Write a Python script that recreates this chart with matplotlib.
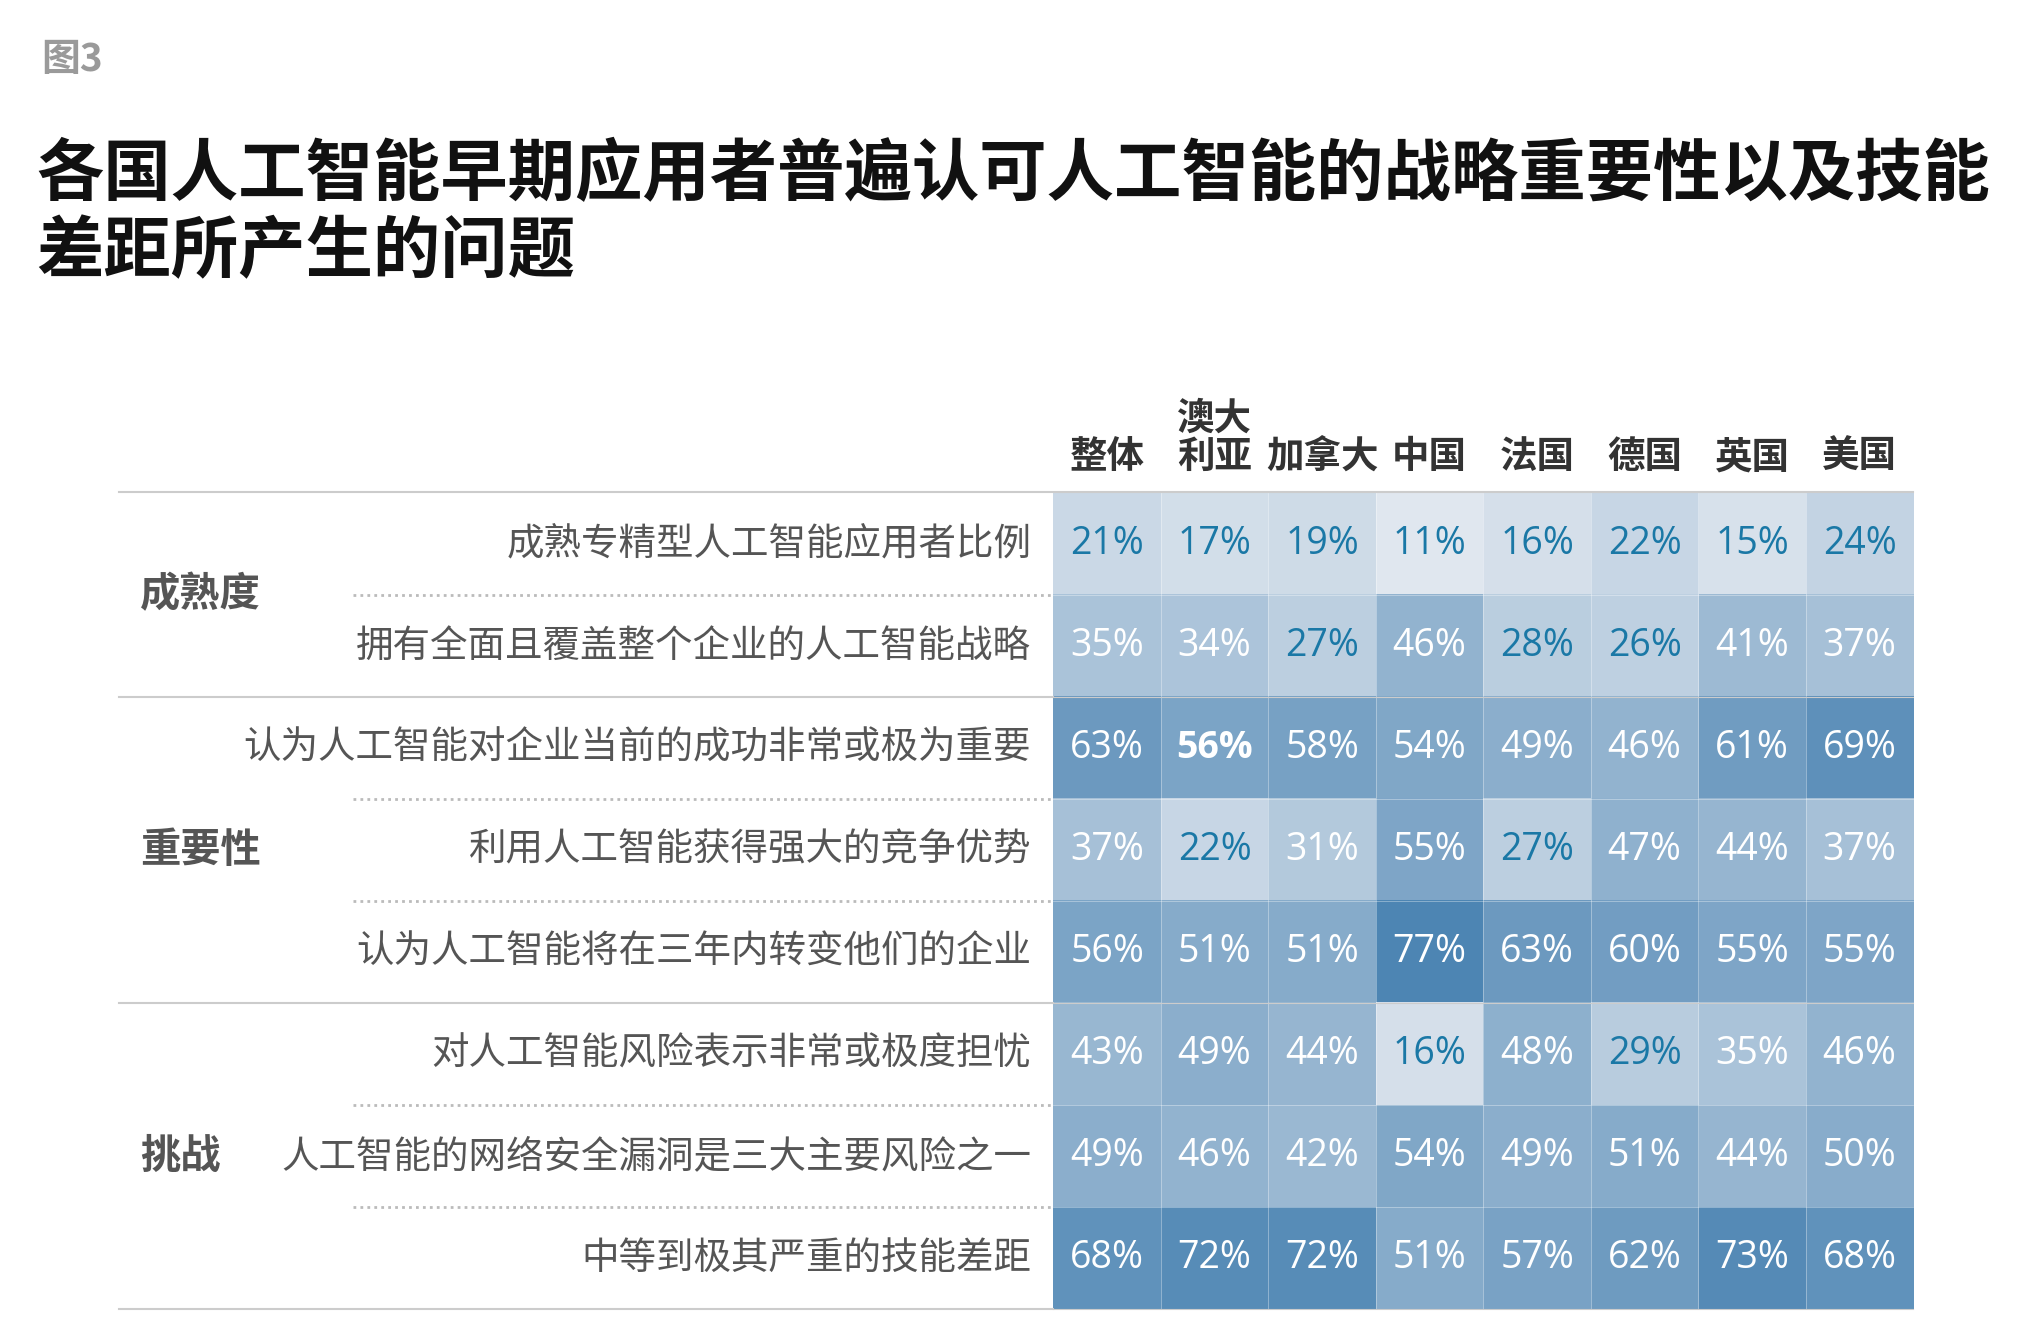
import numpy as np
import matplotlib
matplotlib.use("Agg")
import matplotlib.pyplot as plt
from matplotlib.colors import LinearSegmentedColormap

plt.rcParams["font.family"] = ["Noto Sans CJK SC", "DejaVu Sans"]

countries = ["整体", "澳大\n利亚", "加拿大", "中国", "法国", "德国", "英国", "美国"]
groups = ["成熟度", "重要性", "挑战"]
group_rows = [2, 3, 3]
row_labels = [
    "成熟专精型人工智能应用者比例",
    "拥有全面且覆盖整个企业的人工智能战略",
    "认为人工智能对企业当前的成功非常或极为重要",
    "利用人工智能获得强大的竞争优势",
    "认为人工智能将在三年内转变他们的企业",
    "对人工智能风险表示非常或极度担忧",
    "人工智能的网络安全漏洞是三大主要风险之一",
    "中等到极其严重的技能差距",
]
values = np.array([
    [21, 17, 19, 11, 16, 22, 15, 24],
    [35, 34, 27, 46, 28, 26, 41, 37],
    [63, 56, 58, 54, 49, 46, 61, 69],
    [37, 22, 31, 55, 27, 47, 44, 37],
    [56, 51, 51, 77, 63, 60, 55, 55],
    [43, 49, 44, 16, 48, 29, 35, 46],
    [49, 46, 42, 54, 49, 51, 44, 50],
    [68, 72, 72, 51, 57, 62, 73, 68],
])
bold_cell = (2, 1)

W, H = 1568, 1028
fig = plt.figure(figsize=(20.34, 13.34), dpi=100)
ax = fig.add_axes([0, 0, 1, 1])
ax.set_xlim(0, W); ax.set_ylim(H, 0); ax.axis("off")

x0, x1, y0, y1 = 812, 1475, 380, 1009
nr, nc = values.shape
cw = (x1 - x0) / nc; rh = (y1 - y0) / nr
cmap = LinearSegmentedColormap.from_list("b", ["#e0e7ef", "#4d85b3"])
ax.imshow(values, cmap=cmap, vmin=11, vmax=77, extent=(x0, x1, y1, y0),
          aspect="auto", interpolation="nearest")
for i in range(1, nc):
    ax.plot([x0 + i * cw] * 2, [y0, y1], color="white", lw=0.6, alpha=0.4)
for j in range(1, nr):
    ax.plot([x0, x1], [y0 + j * rh] * 2, color="white", lw=0.6, alpha=0.4)

for r in range(nr):
    yc = y0 + (r + 0.5) * rh
    ax.text(795, yc, row_labels[r], ha="right", va="center", fontsize=27, color="#555555")
    for c in range(nc):
        v = values[r, c]
        col = "#1a78a6" if v < 30 else "white"
        bold = (r, c) == bold_cell
        ax.text(x0 + (c + 0.5) * cw, yc, f"{v}%", ha="center", va="center",
                fontsize=27, color=col, fontweight="bold" if bold else "normal",
                family=["Open Sans", "DejaVu Sans"])

for c, name in enumerate(countries):
    ax.text(x0 + (c + 0.5) * cw, 367, name, ha="center", va="bottom", fontsize=27,
            fontweight="bold", color="#333333", linespacing=1.0)

# group lines and labels
ax.plot([92, x1], [y0 - 1, y0 - 1], color="#cccccc", lw=1.5)
r0 = 0
for g, n in zip(groups, group_rows):
    top = y0 + r0 * rh; bot = y0 + (r0 + n) * rh
    ax.plot([92, x0], [bot, bot], color="#cccccc", lw=1.5)
    ax.plot([x0, x1], [bot, bot], color="#cccccc", lw=0.8)
    for k in range(1, n):
        yy = top + k * rh
        ax.plot([272, x0], [yy, yy], color="#bbbbbb", lw=2, ls=(0, (1, 1.5)))
    ax.text(108, (top + bot) / 2, g, ha="left", va="center", fontsize=29,
            fontweight="bold", color="#555555")
    r0 += n

ax.text(32, 46, "图3", ha="left", va="center", fontsize=28, fontweight="bold", color="#9a9a9a")
ax.text(28, 165, "各国人工智能早期应用者普遍认可人工智能的战略重要性以及技能\n差距所产生的问题",
        ha="left", va="center", fontsize=48.5, fontweight="bold", color="#111111", linespacing=1.15)

fig.savefig("out.png", dpi=100)
